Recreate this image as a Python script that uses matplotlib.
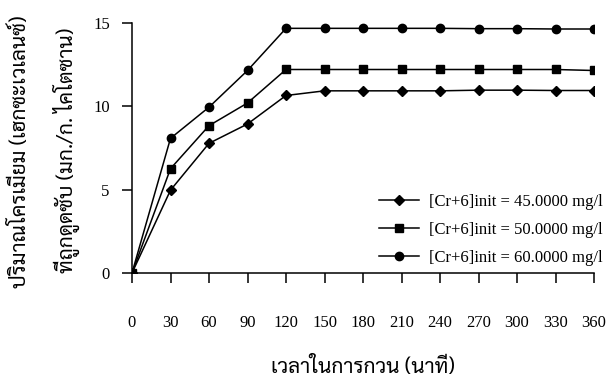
import numpy as np
import matplotlib
matplotlib.use('Agg')
import matplotlib.pyplot as plt

plt.rcParams['font.family'] = ['Liberation Serif', 'DejaVu Serif']

# Adsorption of Cr(VI) on chitosan vs. stirring time
time_min = [0, 30, 60, 90, 120, 150, 180, 210, 240, 270, 300, 330, 360]
cr_45 = [0, 4.97, 7.78, 8.94, 10.65, 10.93, 10.93, 10.93, 10.93, 10.97, 10.97, 10.95, 10.95]
cr_50 = [0, 6.26, 8.84, 10.20, 12.21, 12.21, 12.21, 12.21, 12.21, 12.21, 12.21, 12.21, 12.15]
cr_60 = [0, 8.08, 9.95, 12.15, 14.68, 14.68, 14.68, 14.68, 14.68, 14.66, 14.66, 14.64, 14.64]
labels = ['[Cr+6]init = 45.0000 mg/l',
          '[Cr+6]init = 50.0000 mg/l',
          '[Cr+6]init = 60.0000 mg/l']

thai = ['Sarabun', 'DejaVu Sans']

fig = plt.figure(figsize=(6.07, 3.84), dpi=100)
ax = fig.add_axes([132 / 607, 111 / 384, 462 / 607, 250 / 384])

ax.plot(time_min, cr_45, color='black', lw=1.1, marker='D', ms=5, label=labels[0])
ax.plot(time_min, cr_50, color='black', lw=1.1, marker='s', ms=6, label=labels[1])
ax.plot(time_min, cr_60, color='black', lw=1.1, marker='o', ms=6, label=labels[2])

ax.set_xlim(0, 360)
ax.set_ylim(0, 15)
ax.set_xticks(time_min)
ax.set_yticks([0, 5, 10, 15])
ax.spines['top'].set_visible(False)
ax.spines['right'].set_visible(False)
for s in ['left', 'bottom']:
    ax.spines[s].set_linewidth(1.1)
ax.tick_params(axis='x', direction='out', length=7, width=1.1, pad=23, labelsize=12)
ax.tick_params(axis='y', direction='out', length=7, width=1.1, pad=9, labelsize=12)

# axis titles (Thai)
fig.text(363 / 607, 11 / 384, 'เวลาในการกวน (นาที)', family=thai,
         fontsize=15, ha='center', va='baseline')
fig.text(21 / 607, 1 - 152 / 384, 'ปริมาณโครเมียม (เฮกซะเวเลนซ์)', family=thai,
         fontsize=15, rotation=90, ha='center', va='center')
fig.text(66 / 607, 1 - 150 / 384, 'ที่ถูกดูดซับ (มก./ก. ไคโตซาน)', family=thai,
         fontsize=15, rotation=90, ha='center', va='center')

ax.legend(loc='lower right', bbox_to_anchor=(1.018, 0.03), frameon=False,
          fontsize=12, handlelength=2.4, handletextpad=0.6, labelspacing=0.72,
          borderaxespad=0, borderpad=0)

fig.savefig('out.png', dpi=100)
